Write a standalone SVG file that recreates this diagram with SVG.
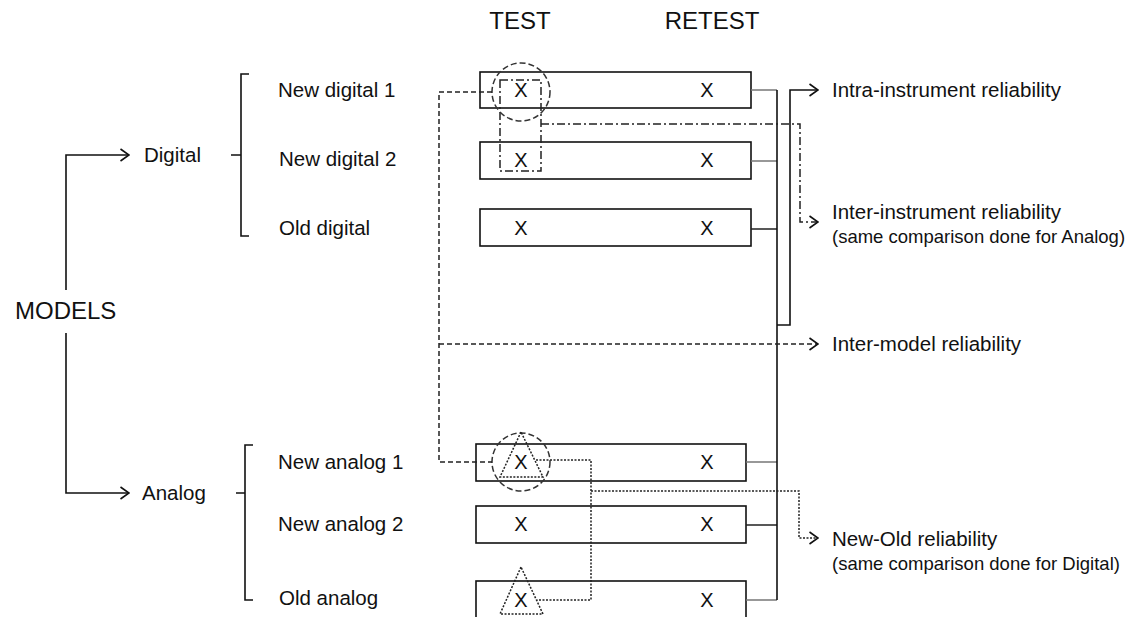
<svg xmlns="http://www.w3.org/2000/svg" width="1144" height="617" viewBox="0 0 1144 617">
<style>
text{font-family:"Liberation Sans",Arial,sans-serif;fill:#111}
.lbl{font-size:20.5px}
.sm{font-size:18.5px}
.big{font-size:24px}
.x{font-size:20px;text-anchor:middle}
.box{fill:#fff;stroke:#111;stroke-width:1.6}
.tie{stroke:#777;stroke-width:1.6;fill:none}
.tie2{stroke:#222;stroke-width:1.4;fill:none}
.solid{stroke:#111;stroke-width:1.6;fill:none}
.dash{stroke:#222;stroke-width:1.5;fill:none;stroke-dasharray:5 3}
.dashdot{stroke:#222;stroke-width:1.5;fill:none;stroke-dasharray:8 3 2 3}
.dot{stroke:#222;stroke-width:1.5;fill:none;stroke-dasharray:2 1.5}
.circ{stroke:#333;stroke-width:1.5;fill:none;stroke-dasharray:6 3}
</style>
<defs>
<marker id="arr" viewBox="0 0 10 14" refX="9.5" refY="7" markerWidth="10" markerHeight="14" markerUnits="userSpaceOnUse" orient="auto">
<path d="M1,1 L9.5,7 L1,13" fill="none" stroke="#111" stroke-width="1.6"/>
</marker>
</defs>

<g id="headers">
<text class="big" x="520" y="29" text-anchor="middle">TEST</text>
<text class="big" x="712" y="29" text-anchor="middle">RETEST</text>
</g>

<g id="models">
<text class="big" x="15" y="319">MODELS</text>
</g>
<g id="digital">
<text class="lbl" x="144" y="162">Digital</text>
<path class="solid" d="M249,74 H241 V236 H249 M241,155 H231"/>
</g>
<g id="analog">
<text class="lbl" x="142" y="500">Analog</text>
<path class="solid" d="M253,445 H245 V600 H253 M245,493 H236"/>
</g>

<g id="new-digital-1">
<text class="lbl" x="278" y="97">New digital 1</text>
<rect class="box" x="480" y="72" width="271" height="36"/>
<text class="x" x="521" y="97">X</text>
<text class="x" x="707" y="97">X</text>
</g>
<g id="new-digital-2">
<text class="lbl" x="279" y="166">New digital 2</text>
<rect class="box" x="480" y="142" width="271" height="37"/>
<text class="x" x="521" y="167">X</text>
<text class="x" x="707" y="167">X</text>
</g>
<g id="old-digital">
<text class="lbl" x="279" y="235">Old digital</text>
<rect class="box" x="480" y="209" width="271" height="37"/>
<text class="x" x="521" y="235">X</text>
<text class="x" x="707" y="235">X</text>
</g>
<g id="new-analog-1">
<text class="lbl" x="278" y="469">New analog 1</text>
<rect class="box" x="476" y="444" width="270" height="37"/>
<text class="x" x="521" y="469">X</text>
<text class="x" x="707" y="469">X</text>
</g>
<g id="new-analog-2">
<text class="lbl" x="278" y="531">New analog 2</text>
<rect class="box" x="476" y="506" width="270" height="37"/>
<text class="x" x="521" y="531">X</text>
<text class="x" x="707" y="531">X</text>
</g>
<g id="old-analog">
<text class="lbl" x="279" y="605">Old analog</text>
<rect class="box" x="476" y="581" width="270" height="40"/>
<text class="x" x="521" y="607">X</text>
<text class="x" x="707" y="607">X</text>
</g>

<g id="outcomes">
<text class="lbl" x="832" y="97">Intra-instrument reliability</text>
<text class="lbl" x="832" y="219">Inter-instrument reliability</text>
<text class="sm" x="832" y="243">(same comparison done for Analog)</text>
<text class="lbl" x="832" y="351">Inter-model reliability</text>
<text class="lbl" x="832" y="546">New-Old reliability</text>
<text class="sm" x="832" y="570">(same comparison done for Digital)</text>
</g>

<g id="connectors">
<path class="solid" d="M66,290 V155 H129" marker-end="url(#arr)"/>
<path class="solid" d="M66,333 V493 H129" marker-end="url(#arr)"/>
<path class="tie" d="M751,90 H777 M751,161 H777 M746,462 H777 M746,600 H777"/>
<path class="tie2" d="M751,229 H777 M746,525 H777"/>
<path class="solid" d="M777,90 V600"/>
<path class="solid" d="M777,325 H790 V90 H818" marker-end="url(#arr)"/>
<path class="dashdot" d="M500,80 H541 V171 H500 Z"/>
<path class="dashdot" d="M541,124 H800 V222 H818" marker-end="url(#arr)"/>
<circle class="circ" cx="521" cy="92" r="29"/>
<circle class="circ" cx="521" cy="462" r="29"/>
<path class="dash" d="M492,92 H439 V462 H492"/>
<path class="dash" d="M439,344 H818" marker-end="url(#arr)"/>
<path class="dot" d="M521,432 L500,477 H543 Z"/>
<path class="dot" d="M521,567 L500,614 H543 Z"/>
<path class="dot" d="M536,460 H591 V600 H537"/>
<path class="dot" d="M591,491 H799 V538 H818" marker-end="url(#arr)"/>
</g>
</svg>
